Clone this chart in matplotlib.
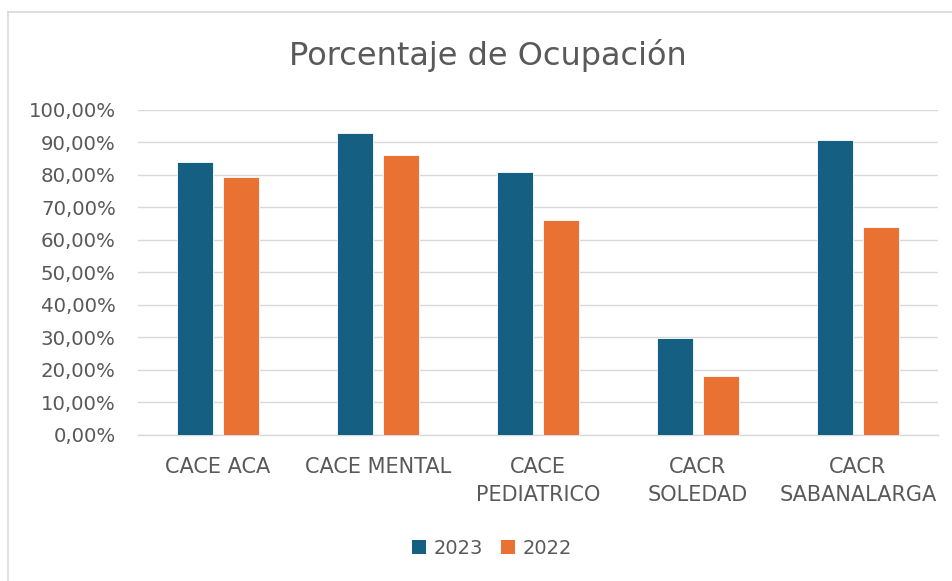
import matplotlib
matplotlib.use("Agg")
import matplotlib.pyplot as plt
from matplotlib.lines import Line2D
from matplotlib.patches import Patch
import numpy as np

categories = ["CACE ACA", "CACE MENTAL", "CACE\nPEDIATRICO", "CACR\nSOLEDAD", "CACR\nSABANALARGA"]
series_names = ["2023", "2022"]
values_2023 = [83.8, 92.9, 80.9, 29.9, 90.6]
values_2022 = [79.3, 85.9, 66.0, 18.0, 64.0]
yticks = [0, 10, 20, 30, 40, 50, 60, 70, 80, 90, 100]

C2023 = "#156082"
C2022 = "#E97132"
TXT = "#595959"
GRID = "#D9D9D9"

plt.rcParams['font.family'] = ['DejaVu Sans']

W, H = 952, 581
fig = plt.figure(figsize=(W / 100, H / 100), dpi=100)
ax = fig.add_axes([138 / W, 1 - 435 / H, 800 / W, (435 - 109.5) / H])

x = np.arange(len(categories))
bw = 0.225
off = 0.142
ax.bar(x - off, values_2023, bw, color=C2023, edgecolor="#ffffff", linewidth=0.6, zorder=3, label=series_names[0])
ax.bar(x + off, values_2022, bw, color=C2022, edgecolor="#ffffff", linewidth=0.6, zorder=3, label=series_names[1])

ax.set_xlim(-0.5, len(categories) - 0.5)
ax.set_ylim(0, 100)
ax.set_yticks(yticks)
ax.set_yticklabels([f"{v:.2f}".replace('.', ',') + "%" for v in yticks])
ax.set_xticks(x)
ax.set_xticklabels(categories)
for lab in ax.get_xticklabels():
    lab.set_linespacing(1.5)

ax.grid(axis='y', color=GRID, linewidth=1.0, zorder=0)
ax.grid(axis='x', visible=False)
for s in ["top", "right", "left"]:
    ax.spines[s].set_visible(False)
ax.spines["bottom"].set_color(GRID)
ax.spines["bottom"].set_linewidth(1.0)
ax.tick_params(axis='both', length=0, colors=TXT)
ax.tick_params(axis='y', labelsize=14.2, pad=16)
ax.tick_params(axis='x', labelsize=15, pad=15.5)

fig.text(488 / W, 1 - 56 / H, "Porcentaje de Ocupación", ha='center', va='center',
         fontsize=23, color=TXT)

handles = [Patch(facecolor=C2023, label=series_names[0]), Patch(facecolor=C2022, label=series_names[1])]
fig.legend(handles=handles, loc='center', bbox_to_anchor=(492 / W, 1 - 548 / H), ncol=2,
           frameon=False, fontsize=14, labelcolor=TXT, handlelength=0.72, handleheight=0.72,
           handletextpad=0.4, columnspacing=0.9)

# outer border (cropped chart frame)
fig.add_artist(Line2D([7.5 / W, 7.5 / W], [0, 1 - 11.5 / H], color=GRID, linewidth=1.2))
fig.add_artist(Line2D([7.5 / W, 1], [1 - 11.5 / H, 1 - 11.5 / H], color=GRID, linewidth=1.2))

fig.savefig("out.png", dpi=100)
